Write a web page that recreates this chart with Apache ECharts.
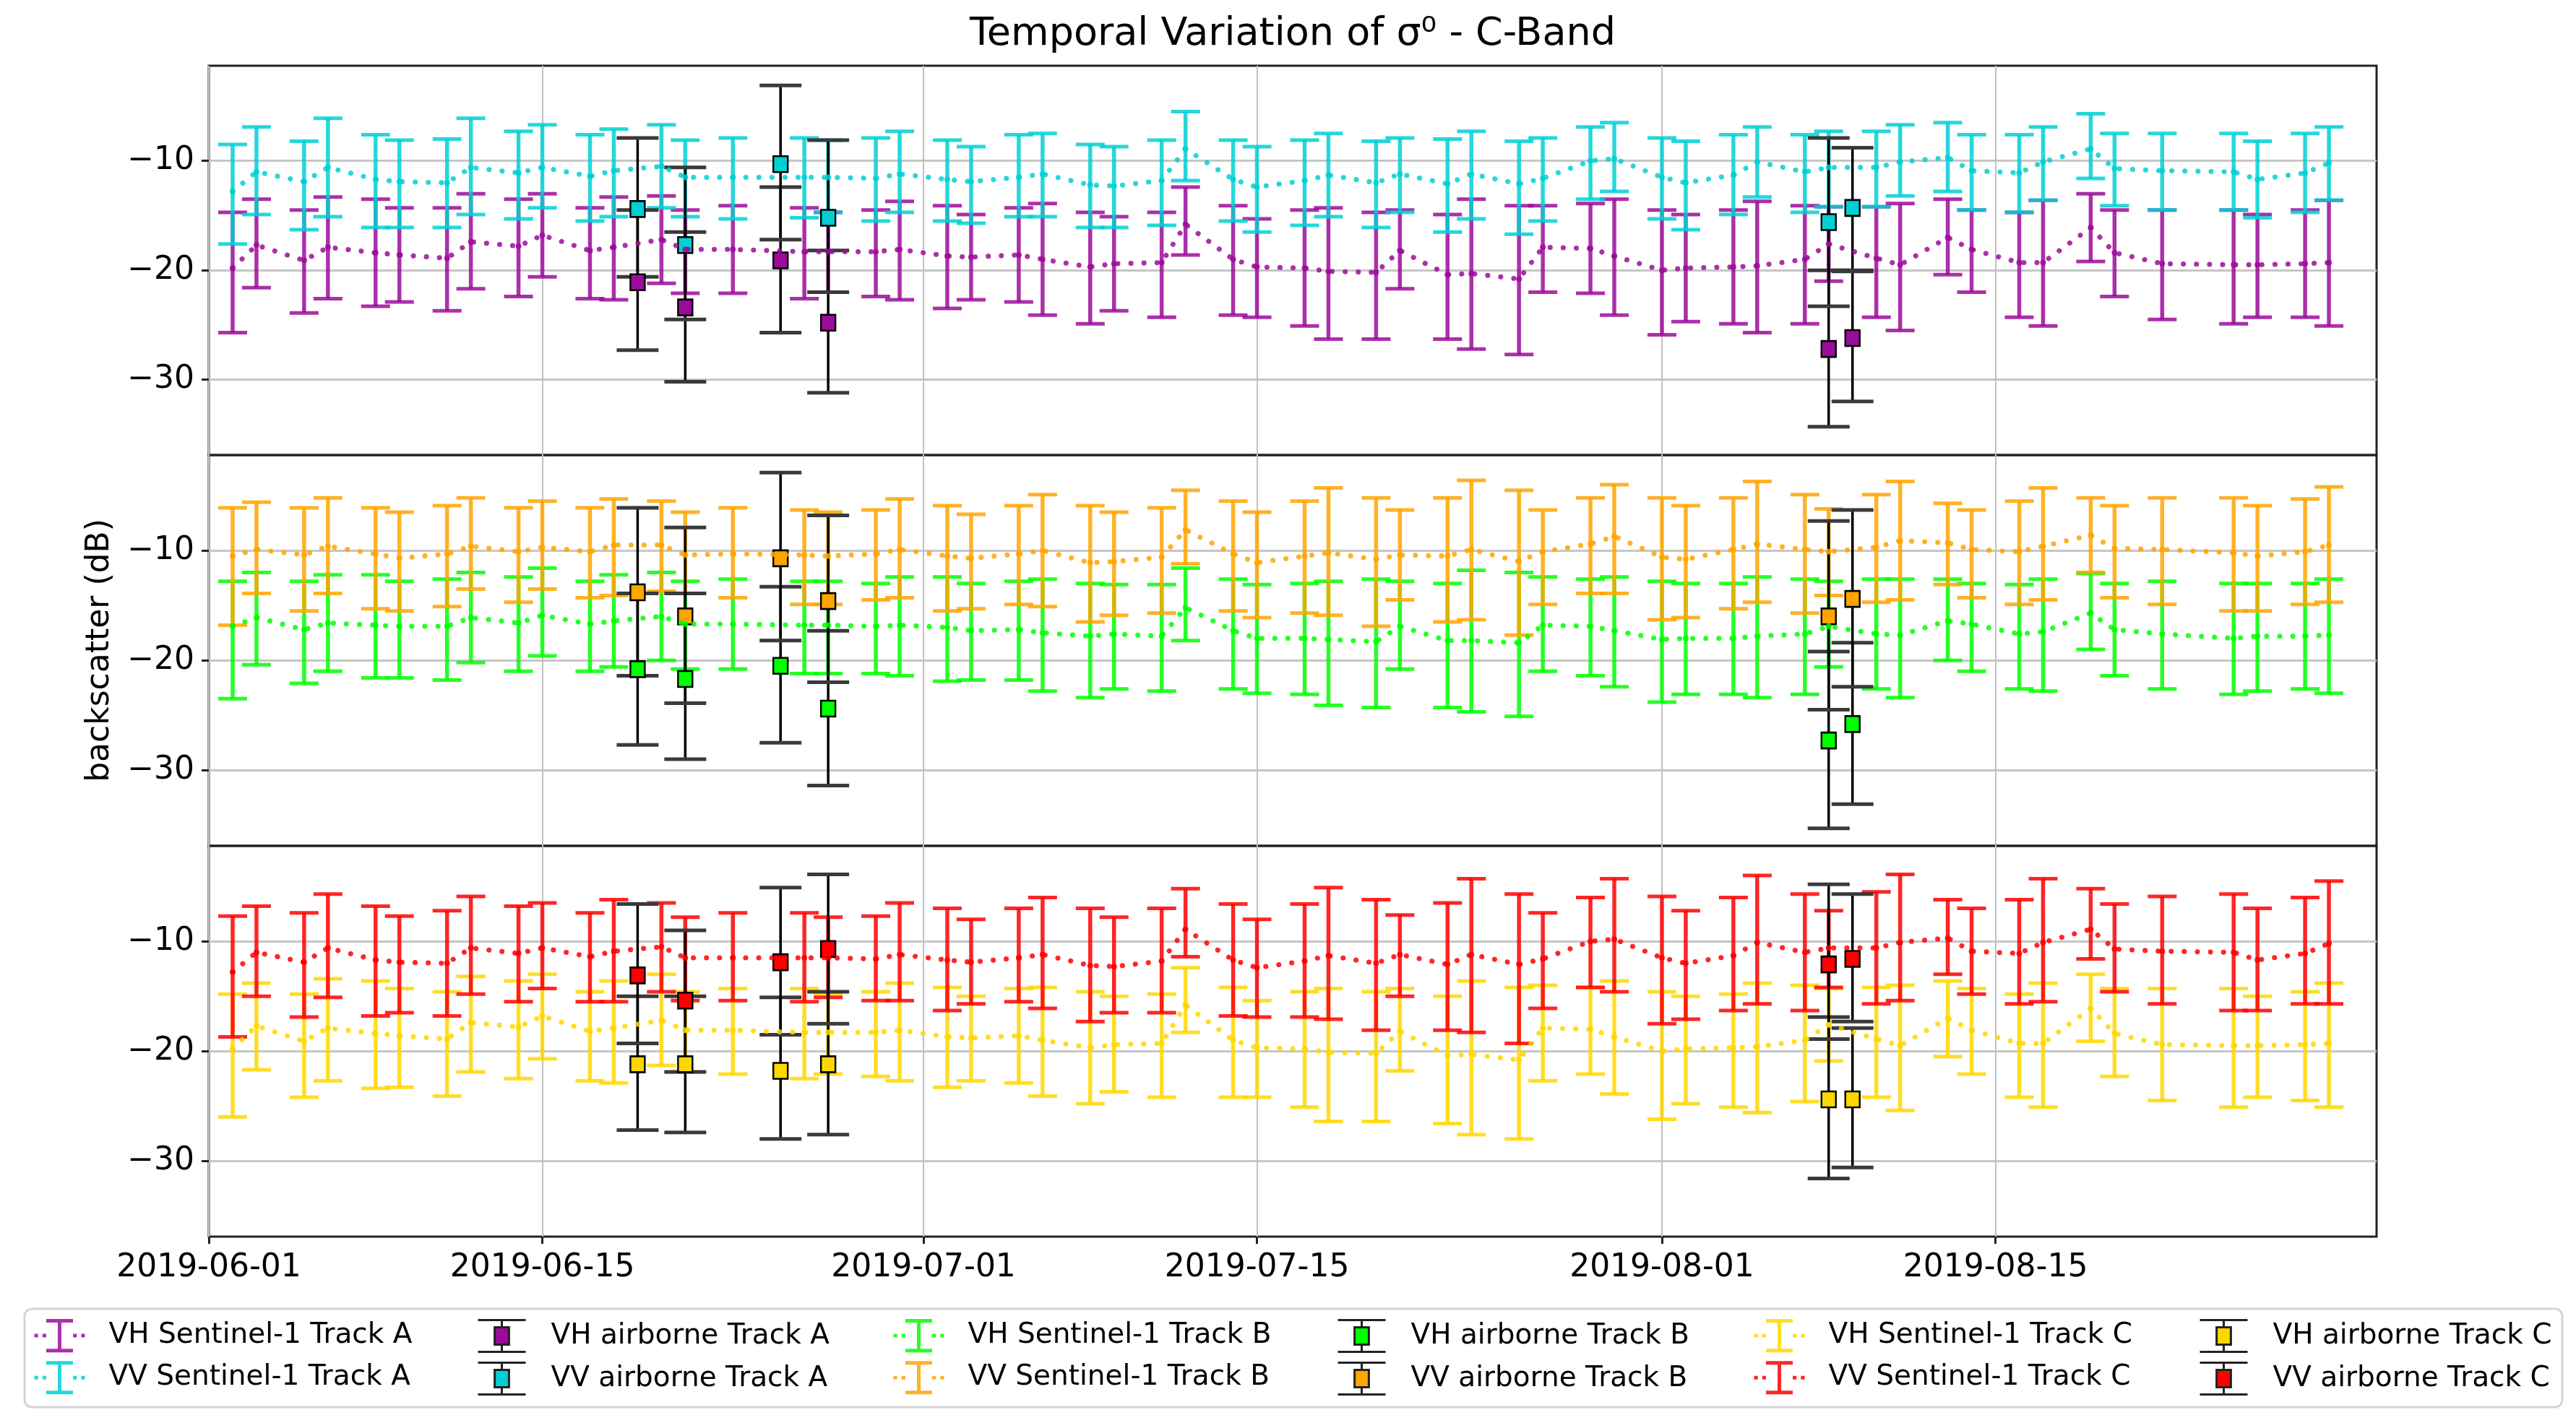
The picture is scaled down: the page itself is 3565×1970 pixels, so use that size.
<!DOCTYPE html>
<html>
<head>
<meta charset="utf-8">
<title>Temporal Variation of σ0 - C-Band</title>
<script src="https://cdn.jsdelivr.net/npm/echarts@6/dist/echarts.min.js"></script>
<style>
html, body { margin: 0; padding: 0; background: #fff; }
#chart { width: 3565px; height: 1970px; }
</style>
</head>
<body>
<div id="chart"></div>
<script>
// Sentinel-1 acquisition dates (same for all tracks)
var s1Dates = [
  '2019-06-02','2019-06-03','2019-06-05','2019-06-06','2019-06-08','2019-06-09','2019-06-11','2019-06-12','2019-06-14','2019-06-15',
  '2019-06-17','2019-06-18','2019-06-20','2019-06-21','2019-06-23','2019-06-26','2019-06-27','2019-06-29','2019-06-30','2019-07-02',
  '2019-07-03','2019-07-05','2019-07-06','2019-07-08','2019-07-09','2019-07-11','2019-07-12','2019-07-14','2019-07-15','2019-07-17',
  '2019-07-18','2019-07-20','2019-07-21','2019-07-23','2019-07-24','2019-07-26','2019-07-27','2019-07-29','2019-07-30','2019-08-01',
  '2019-08-02','2019-08-04','2019-08-05','2019-08-07','2019-08-08','2019-08-10','2019-08-11','2019-08-13','2019-08-14','2019-08-16',
  '2019-08-17','2019-08-19','2019-08-20','2019-08-22','2019-08-25','2019-08-26','2019-08-28','2019-08-29'
];
// airborne campaign dates
var airDates = ['2019-06-19', '2019-06-21', '2019-06-25', '2019-06-27', '2019-08-08', '2019-08-09'];

var xTickDates = ['2019-06-01', '2019-06-15', '2019-07-01', '2019-07-15', '2019-08-01', '2019-08-15'];
var yTicks = [-30, -20, -10];

// Track A - Sentinel-1 (mean, upper and lower end of the bar)
var vvMeanA = [
  -12.8, -11.0, -11.9, -10.6, -11.7, -11.9, -12.0, -10.6, -11.1, -10.6,
  -11.4, -10.9, -10.5, -11.5, -11.5, -11.5, -11.5, -11.6, -11.2, -11.7,
  -11.9, -11.5, -11.2, -12.2, -12.3, -11.8, -8.9, -11.7, -12.4, -11.8,
  -11.3, -12.0, -11.2, -12.1, -11.2, -12.1, -11.6, -10.0, -9.8, -11.5,
  -12.0, -11.3, -10.1, -11.0, -10.6, -10.6, -10.1, -9.7, -10.9, -11.1,
  -10.1, -8.9, -10.7, -10.9, -11.0, -11.7, -11.1, -10.2
];
var vvHiA = [
  -8.5, -6.9, -8.2, -6.1, -7.6, -8.1, -8.0, -6.1, -7.3, -6.7,
  -7.6, -7.1, -6.7, -8.1, -7.9, -7.9, -8.1, -7.9, -7.3, -8.1,
  -8.7, -7.6, -7.5, -8.5, -8.7, -8.1, -5.5, -8.1, -8.7, -8.1,
  -7.5, -8.2, -7.9, -8.0, -7.3, -8.2, -7.9, -6.9, -6.5, -7.9,
  -8.2, -7.6, -6.9, -7.6, -7.3, -7.3, -6.7, -6.5, -7.6, -7.6,
  -6.9, -5.7, -7.5, -7.5, -7.5, -8.2, -7.5, -6.9
];
var vvLoA = [
  -17.6, -14.9, -16.3, -15.1, -16.1, -16.1, -16.1, -14.9, -15.3, -14.3,
  -15.5, -15.1, -14.3, -15.1, -15.3, -15.2, -14.7, -15.5, -14.7, -15.5,
  -15.7, -15.1, -15.1, -16.1, -16.1, -15.9, -11.8, -15.5, -16.5, -15.9,
  -15.1, -16.1, -14.7, -16.5, -15.3, -16.7, -15.5, -13.5, -12.8, -15.3,
  -16.3, -14.9, -13.3, -14.7, -14.2, -14.2, -13.2, -12.8, -14.5, -14.7,
  -13.6, -11.6, -14.1, -14.5, -14.5, -15.2, -14.7, -13.6
];
var vhMeanA = [
  -19.8, -17.7, -19.1, -17.9, -18.4, -18.6, -18.9, -17.4, -17.8, -16.8,
  -18.2, -17.9, -17.2, -18.1, -18.1, -18.3, -18.3, -18.3, -18.1, -18.7,
  -18.8, -18.6, -19.0, -19.7, -19.4, -19.3, -15.8, -19.0, -19.7, -19.8,
  -20.1, -20.2, -18.2, -20.4, -20.3, -20.8, -17.9, -18.0, -18.7, -20.0,
  -19.8, -19.7, -19.6, -19.0, -17.6, -18.9, -19.5, -17.0, -18.1, -19.3,
  -19.3, -16.1, -18.4, -19.4, -19.5, -19.5, -19.4, -19.3
];
var vhHiA = [
  -14.7, -13.5, -14.5, -13.3, -13.5, -14.3, -14.3, -13.0, -13.5, -13.0,
  -14.3, -13.3, -13.2, -14.5, -14.1, -14.3, -14.7, -14.5, -13.7, -14.1,
  -14.9, -14.3, -13.9, -14.7, -15.1, -14.7, -12.4, -14.1, -15.3, -14.5,
  -14.3, -14.7, -14.5, -14.9, -13.5, -14.1, -14.1, -13.9, -13.5, -14.5,
  -14.9, -14.5, -13.7, -14.1, -14.2, -14.2, -13.9, -13.5, -14.5, -14.7,
  -13.6, -13.0, -14.5, -14.5, -14.5, -14.9, -14.5, -13.6
];
var vhLoA = [
  -25.7, -21.6, -23.9, -22.6, -23.3, -22.9, -23.7, -21.7, -22.4, -20.6,
  -22.6, -22.7, -21.2, -22.1, -22.1, -22.6, -22.0, -22.4, -22.7, -23.5,
  -22.7, -22.9, -24.1, -24.9, -23.7, -24.3, -18.6, -24.1, -24.3, -25.1,
  -26.3, -26.3, -21.7, -26.3, -27.2, -27.7, -22.0, -22.1, -24.1, -25.9,
  -24.7, -24.9, -25.7, -24.9, -21.0, -24.3, -25.5, -20.4, -22.0, -24.3,
  -25.1, -19.2, -22.4, -24.5, -24.9, -24.3, -24.3, -25.1
];

// Track B - Sentinel-1
var vvMeanB = [
  -10.5, -9.9, -10.4, -9.6, -10.3, -10.7, -10.3, -9.6, -10.1, -9.7,
  -10.1, -9.5, -9.5, -10.4, -10.3, -10.4, -10.5, -10.3, -9.9, -10.5,
  -10.7, -10.3, -10.0, -11.1, -11.0, -10.6, -8.1, -10.3, -11.1, -10.5,
  -10.2, -10.8, -10.4, -10.5, -9.9, -11.0, -10.1, -9.4, -8.7, -10.6,
  -10.8, -9.9, -9.4, -9.9, -10.1, -9.7, -9.1, -9.3, -9.9, -10.1,
  -9.6, -8.6, -9.8, -9.9, -10.2, -10.5, -10.1, -9.5
];
var vvHiB = [
  -6.1, -5.6, -6.1, -5.2, -6.1, -6.5, -5.9, -5.2, -6.1, -5.5,
  -6.1, -5.3, -5.5, -6.5, -6.1, -6.3, -6.5, -6.3, -5.3, -5.9,
  -6.7, -5.9, -4.9, -5.9, -6.5, -6.1, -4.5, -5.5, -6.5, -5.5,
  -4.3, -5.2, -6.3, -5.2, -3.6, -4.5, -6.3, -5.2, -4.0, -5.2,
  -5.9, -5.2, -3.7, -4.9, -6.2, -4.9, -3.7, -5.7, -6.3, -5.5,
  -4.3, -5.2, -5.9, -5.2, -5.2, -5.9, -5.3, -4.2
];
var vvLoB = [
  -16.8, -13.9, -15.5, -13.9, -15.3, -15.5, -15.1, -13.5, -14.7, -13.5,
  -14.3, -14.1, -13.7, -13.9, -14.3, -14.9, -14.9, -14.5, -14.3, -15.5,
  -15.3, -14.9, -15.1, -16.5, -15.9, -15.7, -11.2, -15.5, -16.1, -15.7,
  -15.9, -16.9, -14.5, -16.5, -16.3, -17.7, -14.9, -13.9, -13.9, -16.3,
  -16.1, -15.3, -14.7, -15.7, -14.1, -14.7, -14.5, -13.1, -14.3, -14.9,
  -14.5, -12.0, -14.3, -14.9, -15.5, -15.5, -14.9, -14.7
];
var vhMeanB = [
  -16.9, -16.1, -17.2, -16.6, -16.8, -16.9, -16.9, -16.1, -16.6, -15.9,
  -16.7, -16.4, -16.0, -16.7, -16.7, -16.8, -16.8, -16.9, -16.8, -17.0,
  -17.3, -17.2, -17.5, -17.8, -17.6, -17.8, -15.2, -17.3, -18.0, -18.0,
  -18.1, -18.3, -16.9, -18.2, -18.2, -18.4, -16.8, -16.9, -17.3, -18.1,
  -18.0, -18.0, -17.8, -17.6, -16.9, -17.6, -17.7, -16.4, -16.7, -17.6,
  -17.4, -15.7, -17.2, -17.6, -18.0, -17.8, -17.8, -17.7
];
var vhHiB = [
  -12.8, -12.0, -12.8, -12.2, -12.2, -12.8, -12.6, -12.0, -12.4, -11.6,
  -12.8, -12.2, -12.0, -12.8, -12.6, -12.8, -12.8, -13.0, -12.4, -12.4,
  -13.0, -12.8, -12.6, -13.0, -13.1, -13.1, -11.6, -12.6, -13.1, -13.0,
  -12.8, -12.6, -12.8, -13.0, -11.8, -12.0, -12.4, -12.6, -12.4, -12.8,
  -13.0, -13.0, -12.4, -12.6, -12.8, -12.6, -12.6, -12.6, -13.0, -13.1,
  -12.6, -12.1, -13.0, -12.8, -13.0, -13.0, -13.0, -12.6
];
var vhLoB = [
  -23.5, -20.4, -22.1, -21.0, -21.6, -21.6, -21.8, -20.2, -21.0, -19.6,
  -21.0, -20.6, -20.0, -20.8, -20.8, -21.2, -21.2, -21.2, -21.4, -21.9,
  -21.8, -21.8, -22.8, -23.4, -22.6, -22.8, -18.2, -22.6, -23.0, -23.1,
  -24.1, -24.3, -20.8, -24.3, -24.7, -25.1, -21.0, -21.4, -22.4, -23.8,
  -23.1, -23.1, -23.4, -23.1, -20.6, -22.6, -23.4, -20.0, -21.0, -22.6,
  -22.8, -19.0, -21.4, -22.6, -23.1, -22.8, -22.6, -23.0
];

// Track C - Sentinel-1 (means follow track A, bars differ)
var vvMeanC = vvMeanA.slice();
var vvHiC = [
  -7.7, -6.8, -7.4, -5.7, -6.8, -7.7, -7.2, -5.9, -6.8, -6.5,
  -7.4, -6.2, -6.5, -7.8, -7.4, -7.4, -7.8, -7.7, -6.5, -7.0,
  -8.0, -7.0, -6.0, -7.0, -7.8, -7.0, -5.2, -6.6, -8.0, -6.6,
  -5.1, -6.2, -7.6, -6.5, -4.3, -5.7, -7.4, -6.0, -4.3, -5.9,
  -7.2, -6.0, -4.0, -5.7, -7.2, -5.5, -3.9, -6.2, -7.0, -6.2,
  -4.3, -5.2, -6.6, -5.9, -5.7, -7.0, -6.0, -4.5
];
var vvLoC = [
  -18.7, -15.0, -16.9, -15.1, -16.8, -16.5, -16.8, -14.8, -15.5, -14.3,
  -15.5, -15.5, -14.6, -15.4, -15.4, -15.5, -15.1, -15.4, -15.4, -16.3,
  -15.7, -15.5, -16.1, -17.3, -16.5, -16.5, -11.4, -16.8, -16.9, -16.9,
  -17.1, -18.1, -15.0, -18.1, -18.3, -19.3, -16.1, -14.2, -14.6, -17.5,
  -17.1, -16.3, -15.7, -16.3, -14.2, -15.7, -15.4, -13.0, -14.8, -15.7,
  -15.5, -11.6, -14.6, -15.7, -16.3, -16.3, -15.7, -15.7
];
var vhMeanC = vhMeanA.slice();
var vhHiC = [
  -14.8, -13.8, -14.8, -13.4, -13.6, -14.3, -14.6, -13.2, -13.6, -13.0,
  -14.6, -13.6, -13.0, -14.6, -14.3, -14.3, -14.8, -14.6, -13.8, -14.2,
  -15.0, -14.3, -14.2, -14.6, -15.0, -14.8, -12.4, -14.2, -15.4, -14.6,
  -14.3, -14.6, -14.3, -15.0, -13.6, -14.2, -14.0, -14.2, -13.6, -14.6,
  -15.0, -14.8, -13.8, -14.0, -14.3, -14.2, -14.0, -13.6, -14.3, -14.8,
  -13.8, -13.0, -14.3, -14.3, -14.3, -15.0, -14.6, -13.8
];
var vhLoC = [
  -26.0, -21.7, -24.2, -22.7, -23.4, -23.3, -24.1, -21.9, -22.5, -20.7,
  -22.7, -22.9, -21.3, -21.9, -22.1, -22.5, -22.1, -22.3, -22.7, -23.3,
  -22.7, -22.9, -24.1, -24.8, -23.7, -24.2, -18.3, -24.2, -24.2, -25.1,
  -26.4, -26.4, -21.8, -26.6, -27.6, -28.0, -22.7, -22.1, -23.9, -26.2,
  -24.8, -25.1, -25.6, -24.6, -20.9, -24.2, -25.4, -20.5, -22.1, -24.2,
  -25.1, -19.1, -22.3, -24.5, -25.1, -24.2, -24.5, -25.1
];

// airborne
var airVvMeanA = [-14.4, -17.7, -10.3, -15.2, -15.6, -14.3];
var airVvHiA   = [-7.9, -10.6, -3.1, -8.1, -7.9, -8.8];
var airVvLoA   = [-20.6, -24.5, -17.2, -22.0, -23.3, -20.0];
var airVhMeanA = [-21.1, -23.4, -19.1, -24.8, -27.2, -26.2];
var airVhHiA   = [-14.5, -16.5, -12.4, -18.2, -20.0, -20.1];
var airVhLoA   = [-27.3, -30.2, -25.7, -31.2, -34.3, -32.0];

var airVvMeanB = [-13.8, -16.0, -10.7, -14.6, -16.0, -14.4];
var airVvHiB   = [-6.1, -7.9, -2.9, -6.8, -7.3, -6.3];
var airVvLoB   = [-21.4, -23.9, -18.2, -22.0, -24.5, -22.4];
var airVhMeanB = [-20.8, -21.7, -20.5, -24.4, -27.3, -25.8];
var airVhHiB   = [-13.9, -13.9, -13.3, -17.3, -19.2, -18.4];
var airVhLoB   = [-27.7, -29.0, -27.5, -31.4, -35.3, -33.1];

var airVvMeanC = [-13.1, -15.4, -11.9, -10.7, -12.1, -11.6];
var airVvHiC   = [-6.6, -9.0, -5.1, -3.9, -4.8, -5.7];
var airVvLoC   = [-19.3, -21.9, -18.5, -17.5, -18.9, -17.3];
var airVhMeanC = [-21.2, -21.2, -21.8, -21.2, -24.4, -24.4];
var airVhHiC   = [-15.0, -15.0, -15.1, -14.6, -16.9, -17.9];
var airVhLoC   = [-27.2, -27.4, -28.0, -27.6, -31.6, -30.6];

var FONT = 'DejaVu Sans';
var colors = {
  vhA: '#9c0c9a', vvA: '#00d0d4',
  vhB: '#00ff00', vvB: '#ffa500',
  vhC: '#ffd700', vvC: '#ff0000'
};

function toTime(s) {
  var p = s.split('-');
  return new Date(+p[0], +p[1] - 1, +p[2]).getTime();
}
function pad(n) { return n < 10 ? '0' + n : '' + n; }
function fmtDate(v) {
  var d = new Date(v);
  return d.getFullYear() + '-' + pad(d.getMonth() + 1) + '-' + pad(d.getDate());
}
function pairs(dates, vals) {
  return dates.map(function (d, i) { return [toTime(d), vals[i]]; });
}
function ranges(dates, lo, hi) {
  return dates.map(function (d, i) { return [toTime(d), lo[i], hi[i]]; });
}

// errorbar: stem from lo to hi plus two caps
function errorBars(capHalf, stemWidth, capWidth, capColor, alpha) {
  return function (params, api) {
    var x = api.value(0);
    var top = api.coord([x, api.value(2)]);
    var bot = api.coord([x, api.value(1)]);
    var c = api.visual('color');
    var stem = { stroke: c, lineWidth: stemWidth, opacity: alpha };
    var cap = { stroke: capColor || c, lineWidth: capWidth, opacity: alpha };
    return {
      type: 'group',
      children: [
        { type: 'line', shape: { x1: top[0], y1: top[1], x2: bot[0], y2: bot[1] }, style: stem },
        { type: 'line', shape: { x1: top[0] - capHalf, y1: top[1], x2: top[0] + capHalf, y2: top[1] }, style: cap },
        { type: 'line', shape: { x1: bot[0] - capHalf, y1: bot[1], x2: bot[0] + capHalf, y2: bot[1] }, style: cap }
      ]
    };
  };
}

function s1Series(name, p, color, mean, lo, hi) {
  return [{
    type: 'custom', name: name, xAxisIndex: p, yAxisIndex: p,
    itemStyle: { color: color },
    renderItem: errorBars(20, 5.5, 5, null, 0.85),
    encode: { x: 0, y: [1, 2] },
    data: ranges(s1Dates, lo, hi),
    silent: true
  }, {
    type: 'line', name: name, xAxisIndex: p, yAxisIndex: p,
    data: pairs(s1Dates, mean),
    symbol: 'circle', symbolSize: 8, showSymbol: true,
    itemStyle: { color: color, opacity: 0.85 },
    lineStyle: { color: color, width: 7, type: [0.1, 18], cap: 'round', opacity: 0.85 },
    silent: true
  }];
}

function airSeries(name, p, color, mean, lo, hi) {
  return [{
    type: 'custom', name: name, xAxisIndex: p, yAxisIndex: p,
    itemStyle: { color: '#000' },
    renderItem: errorBars(29, 3.5, 5, '#3a3a3a', 1),
    encode: { x: 0, y: [1, 2] },
    data: ranges(airDates, lo, hi),
    silent: true
  }, {
    type: 'scatter', name: name, xAxisIndex: p, yAxisIndex: p,
    data: pairs(airDates, mean),
    symbol: 'rect', symbolSize: [20, 22],
    itemStyle: { color: color, borderColor: '#000', borderWidth: 2.5, opacity: 1 },
    silent: true
  }];
}

var tracks = [
  { t: 'A', vh: [vhMeanA, vhLoA, vhHiA], vv: [vvMeanA, vvLoA, vvHiA],
    avh: [airVhMeanA, airVhLoA, airVhHiA], avv: [airVvMeanA, airVvLoA, airVvHiA], cvh: colors.vhA, cvv: colors.vvA },
  { t: 'B', vh: [vhMeanB, vhLoB, vhHiB], vv: [vvMeanB, vvLoB, vvHiB],
    avh: [airVhMeanB, airVhLoB, airVhHiB], avv: [airVvMeanB, airVvLoB, airVvHiB], cvh: colors.vhB, cvv: colors.vvB },
  { t: 'C', vh: [vhMeanC, vhLoC, vhHiC], vv: [vvMeanC, vvLoC, vvHiC],
    avh: [airVhMeanC, airVhLoC, airVhHiC], avv: [airVvMeanC, airVvLoC, airVvHiC], cvh: colors.vhC, cvv: colors.vvC }
];

var gridTops = [91, 630, 1171];
var gridHeights = [539, 541, 541];
var xTicks = xTickDates.map(toTime);

var grids = [], xAxes = [], yAxes = [], series = [];
tracks.forEach(function (tr, p) {
  grids.push({
    left: 289, top: gridTops[p], width: 3000, height: gridHeights[p],
    show: true, borderColor: '#222', borderWidth: 3, backgroundColor: 'transparent',
    containLabel: false, outerBoundsMode: 'none'
  });
  // dates as a value axis in ms, ticks on the 1st and 15th
  xAxes.push({
    type: 'value', gridIndex: p,
    min: toTime('2019-06-01'), max: toTime('2019-08-31'),
    axisLine: { show: false },
    axisTick: { show: p === 2, length: 10, lineStyle: { color: '#222', width: 3 }, customValues: xTicks },
    axisLabel: {
      show: p === 2, customValues: xTicks, formatter: fmtDate, margin: 22,
      fontFamily: FONT, fontSize: 44, color: '#000'
    },
    splitLine: { show: true, lineStyle: { color: '#c0c0c0', width: 2 } }
  });
  yAxes.push({
    type: 'value', gridIndex: p, min: -36.9, max: -1.3,
    axisLine: { show: false },
    axisTick: { show: true, length: 10, lineStyle: { color: '#222', width: 3 }, customValues: yTicks },
    axisLabel: {
      customValues: yTicks, margin: 20,
      formatter: function (v) { return (v < 0 ? '\u2212' : '') + Math.abs(v); },
      fontFamily: FONT, fontSize: 44, color: '#000'
    },
    splitLine: { show: true, lineStyle: { color: '#c6c6c6', width: 3 } },
    name: p === 1 ? 'backscatter (dB)' : '',
    nameLocation: 'middle', nameGap: 128,
    nameTextStyle: { fontFamily: FONT, fontSize: 44, color: '#000' }
  });
  series = series
    .concat(s1Series('VH Sentinel-1 Track ' + tr.t, p, tr.cvh, tr.vh[0], tr.vh[1], tr.vh[2]))
    .concat(s1Series('VV Sentinel-1 Track ' + tr.t, p, tr.cvv, tr.vv[0], tr.vv[1], tr.vv[2]))
    .concat(airSeries('VH airborne Track ' + tr.t, p, tr.cvh, tr.avh[0], tr.avh[1], tr.avh[2]))
    .concat(airSeries('VV airborne Track ' + tr.t, p, tr.cvv, tr.avv[0], tr.avv[1], tr.avv[2]));
});

// legend icons: errorbar with dotted line, and errorbar with square
var s1Icon = 'path://M17,2H53M17,42H53M35,2V42M1,22H6M12,22H17M53,22H58M64,22H69';
var airIcon = 'path://M5,2H65M5,42H65M35,2V11M35,33V42M26,11H44V33H26Z';

var legendLefts = [45, 660, 1234, 1850, 2425, 3043];
var legends = [];
tracks.forEach(function (tr, k) {
  var s1Items = [['VH Sentinel-1 Track ' + tr.t, tr.cvh], ['VV Sentinel-1 Track ' + tr.t, tr.cvv]];
  var airItems = [['VH airborne Track ' + tr.t, tr.cvh], ['VV airborne Track ' + tr.t, tr.cvv]];
  [[s1Items, true], [airItems, false]].forEach(function (grp, j) {
    legends.push({
      orient: 'vertical', left: legendLefts[k * 2 + j], top: 1826,
      itemWidth: 70, itemHeight: 44, itemGap: 12, padding: 0,
      selectedMode: false,
      textStyle: { fontFamily: FONT, fontSize: 39, color: '#000', padding: [0, 0, 0, 28] },
      data: grp[0].map(function (it) {
        return grp[1]
          ? { name: it[0], icon: s1Icon, itemStyle: { color: 'rgba(0,0,0,0)', borderColor: it[1], borderWidth: 5, opacity: 0.85 } }
          : { name: it[0], icon: airIcon, itemStyle: { color: it[1], borderColor: '#222', borderWidth: 3, opacity: 1 } };
      })
    });
  });
});

var chart = echarts.init(document.getElementById('chart'), null, { renderer: 'canvas' });
chart.setOption({
  animation: false,
  backgroundColor: '#fff',
  textStyle: { fontFamily: FONT },
  grid: grids,
  xAxis: xAxes,
  yAxis: yAxes,
  legend: legends,
  series: series,
  graphic: [
    {
      type: 'text', x: 1789, y: 48,
      style: { text: 'Temporal Variation of \u03c3\u2070 - C-Band', fontFamily: FONT, fontSize: 54, fill: '#000', align: 'center', verticalAlign: 'middle' }
    },
    {
      type: 'rect', shape: { x: 34, y: 1812, width: 3512, height: 136, r: 10 },
      style: { fill: 'none', stroke: '#d4d4d4', lineWidth: 3 }
    }
  ]
});
</script>
</body>
</html>
